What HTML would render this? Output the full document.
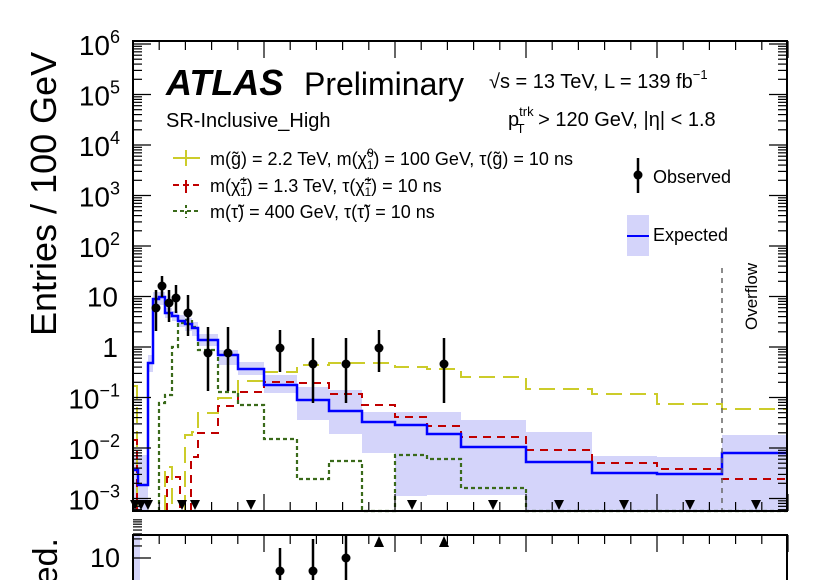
<!DOCTYPE html>
<html><head><meta charset="utf-8"><style>
html,body{margin:0;padding:0;background:#fff;width:830px;height:580px;overflow:hidden}
svg{display:block;overflow:hidden}
svg text{font-family:"Liberation Sans",Arial,sans-serif;fill:#000}
</style></head><body>
<svg id="s" width="830" height="580" viewBox="0 0 830 580" overflow="hidden" xmlns="http://www.w3.org/2000/svg">
<g id="band" fill="#d4d4fa"></g>
<path d="M134,386 H137 V511 M165,511 V467 H172 V511 M185,511 V435 H192 V432 H198 V413 H218 V398 H238 V381 H264 V372 H297 V365 H329 V363 H362 V363 H395 V367 H427 V369 H461 V377 H526 V389 H592 V394 H657 V404 H722 V409 H787" fill="none" stroke="#cccc2a" stroke-width="2" stroke-dasharray="16,8"/>
<path d="M134,440 H137 V511 M167,511 V477 H180 V511 M191,511 V457 H198 V433 H218 V406 H238 V392 H264 V382 H297 V383 H329 V394 H362 V405 H395 V417 H427 V426 H461 V437 H526 V450 H592 V463 H657 V469 H722 V479 H787" fill="none" stroke="#c00000" stroke-width="2" stroke-dasharray="8,6"/>
<path d="M159,511 V403 H165 V395 H172 V347 H178 V323 H185 V320 H192 V327 H198 V350 H218 V392 H238 V405 H264 V439 H297 V479 H329 V461 H362 V511 H395 V455 H427 V459 H461 V488 H526 V511 H787" fill="none" stroke="#3a6a1a" stroke-width="2.2" stroke-dasharray="4,3"/>
<path d="M134,470 H138 V485 H148 V363 H153 V299 H159 V297 H165 V313 H172 V316 H178 V321 H185 V324 H192 V328 H198 V340 H218 V355 H238 V369 H264 V385 H297 V400 H329 V411 H362 V422 H395 V425 H427 V434 H461 V447 H526 V462 H592 V473 H657 V474 H722 V453 H787" fill="none" stroke="#0000ff" stroke-width="2.5"/>
<line x1="722" y1="268" x2="722" y2="511" stroke="#666" stroke-width="1.5" stroke-dasharray="5,5"/>
<text transform="translate(757,330) rotate(-90)" font-size="17">Overflow</text>
<g id="pts" fill="#000" stroke="#000" stroke-width="2.5"></g>
<g id="ticks" stroke="#000" stroke-width="1.2"></g>
<rect x="133" y="41" width="654" height="470" fill="none" stroke="#000" stroke-width="2"/>
<rect x="134" y="536" width="6" height="44" fill="#d4d4fa"/>
<path d="M133,580 V535 H787 V580" fill="none" stroke="#000" stroke-width="2"/>
<g id="ticks2" stroke="#000" stroke-width="1.2"></g>
<text x="120" y="567" font-size="27" text-anchor="end">10</text>
<text transform="translate(57,538) rotate(-90)" font-size="34" text-anchor="end">ed.</text>
<g id="ylab" font-size="28"></g>
<text transform="translate(56,336) rotate(-90)" font-size="36">Entries / 100 GeV</text>
<text x="166" y="95" font-size="36" font-weight="bold" font-style="italic">ATLAS</text>
<text x="304" y="95" font-size="32">Preliminary</text>
<text x="166" y="127" font-size="20">SR-Inclusive_High</text>
<text x="489" y="88" font-size="20">√s = 13 TeV,  L = 139 fb<tspan dy="-9" font-size="13">−1</tspan></text>
<text x="508" y="126" font-size="20">p<tspan dy="-10" font-size="13">trk</tspan><tspan dx="-17" dy="17" font-size="13">T</tspan><tspan dx="8" dy="-7"> &gt; 120 GeV, |η| &lt; 1.8</tspan></text>
<g font-size="18">
<line x1="173" y1="158" x2="200" y2="158" stroke="#cccc2a" stroke-width="2"/><line x1="186" y1="150" x2="186" y2="166" stroke="#cccc2a" stroke-width="2"/>
<text x="210" y="165">m(g̃) = 2.2 TeV, m(χ̃<tspan dy="-8" font-size="12">0</tspan><tspan dx="-7" dy="12" font-size="12">1</tspan><tspan dy="-4">) = 100 GeV, τ(g̃) = 10 ns</tspan></text>
<line x1="173" y1="185" x2="200" y2="185" stroke="#c00000" stroke-width="2" stroke-dasharray="6,4"/><line x1="186" y1="180" x2="186" y2="193" stroke="#c00000" stroke-width="2"/>
<text x="210" y="192">m(χ̃<tspan dy="-8" font-size="12">±</tspan><tspan dx="-7" dy="12" font-size="12">1</tspan><tspan dy="-4">) = 1.3 TeV, τ(χ̃</tspan><tspan dy="-8" font-size="12">±</tspan><tspan dx="-7" dy="12" font-size="12">1</tspan><tspan dy="-4">) = 10 ns</tspan></text>
<line x1="173" y1="211" x2="200" y2="211" stroke="#3a6a1a" stroke-width="2" stroke-dasharray="4,3"/><line x1="186" y1="205" x2="186" y2="218" stroke="#3a6a1a" stroke-width="2" stroke-dasharray="3,3"/>
<text x="210" y="218">m(τ̃) =  400 GeV, τ(τ̃) = 10 ns</text>
<line x1="638" y1="158" x2="638" y2="193" stroke="#000" stroke-width="2.5"/><circle cx="638" cy="175" r="4.5"/>
<text x="653" y="183">Observed</text>
<rect x="627" y="215" width="22" height="41" fill="#d4d4fa"/><line x1="627" y1="236" x2="649" y2="236" stroke="#0000ff" stroke-width="2"/>
<text x="653" y="241">Expected</text>
</g>
</svg>
<script>
var NS="http://www.w3.org/2000/svg";
function el(p,t,a){var e=document.createElementNS(NS,t);for(var k in a)e.setAttribute(k,a[k]);document.getElementById(p).appendChild(e);return e;}
var band=[[134,148,455,511],[148,153,355,372],[153,165,292,305],[165,172,308,318],[172,178,311,321],[178,185,315,327],[185,192,318,331],[192,198,322,336],[198,218,334,346],[218,238,350,365],[238,264,362,375],[264,297,375,393],[297,329,387,420],[329,362,390,434],[362,395,412,453],[395,427,412,496],[427,461,412,495],[461,526,420,495],[526,592,432,511],[592,657,456,511],[657,722,457,511],[722,787,435,511]];
band.forEach(function(b){el("band","rect",{x:b[0],y:b[2],width:b[1]-b[0],height:b[3]-b[2]});});
var pts=[[156,308,290,331],[162,286,276,297],[169,303,290,322],[176,298,285,313],[188,313,295,336],[208,353,327,391],[228,353,327,391],[280,348,330,372],[313,364,338,403],[346,364,338,403],[379,348,330,372],[444,364,338,403]];
pts.forEach(function(p){el("pts","line",{x1:p[0],x2:p[0],y1:p[2],y2:p[3]});el("pts","circle",{cx:p[0],cy:p[1],r:4.5,stroke:"none"});});
[[280,571,548,580],[313,571,539,580],[346,558,535,580]].forEach(function(p){el("pts","line",{x1:p[0],x2:p[0],y1:p[2],y2:p[3]});el("pts","circle",{cx:p[0],cy:p[1],r:4.5,stroke:"none"});});
[135,141,148,182,195,251,412,493,559,624,690,756].forEach(function(x){el("pts","polygon",{points:(x-5)+",500 "+(x+5)+",500 "+x+",510",stroke:"none"});});
[379,444].forEach(function(x){el("pts","polygon",{points:(x-5)+",547 "+(x+5)+",547 "+x+",536",stroke:"none"});});
for(var i=0;i<=25;i++){var x=133+i*26.2;var L=(i%5==0)?17:9;
 el("ticks","line",{x1:x,x2:x,y1:511,y2:511-L});el("ticks","line",{x1:x,x2:x,y1:41,y2:41+L});
 el("ticks2","line",{x1:x,x2:x,y1:535,y2:535+L});}
function Y(l){return 347-50.5*l;}
for(var d=-4;d<=6;d++){for(var k=1;k<10;k++){var y=Y(d+Math.log10(k));if(y>511||y<41)continue;var L=k==1?18:9;
 el("ticks","line",{x1:133,x2:133+L,y1:y,y2:y});el("ticks","line",{x1:787,x2:787-L,y1:y,y2:y});}}
for(var k=1;k<10;k++){var y=558-40*Math.log10(k);if(y>579)continue;el("ticks2","line",{x1:133,x2:133+(k==1?18:9),y1:y,y2:y});}
for(var d=-3;d<=6;d++){var y=Y(d);var t;
 if(d==1){t=el("ylab","text",{x:118,y:y+10,"text-anchor":"end"});t.textContent="10";}
 else if(d==0){t=el("ylab","text",{x:118,y:y+10,"text-anchor":"end"});t.textContent="1";}
 else{t=el("ylab","text",{x:120,y:y+11,"text-anchor":"end"});
  var s=document.createElementNS(NS,"tspan");s.textContent="10";t.appendChild(s);
  var u=document.createElementNS(NS,"tspan");u.setAttribute("dy","-12");u.setAttribute("font-size","18");u.textContent=(d<0?"−":"")+Math.abs(d);t.appendChild(u);}
}
</script>
</body></html>
